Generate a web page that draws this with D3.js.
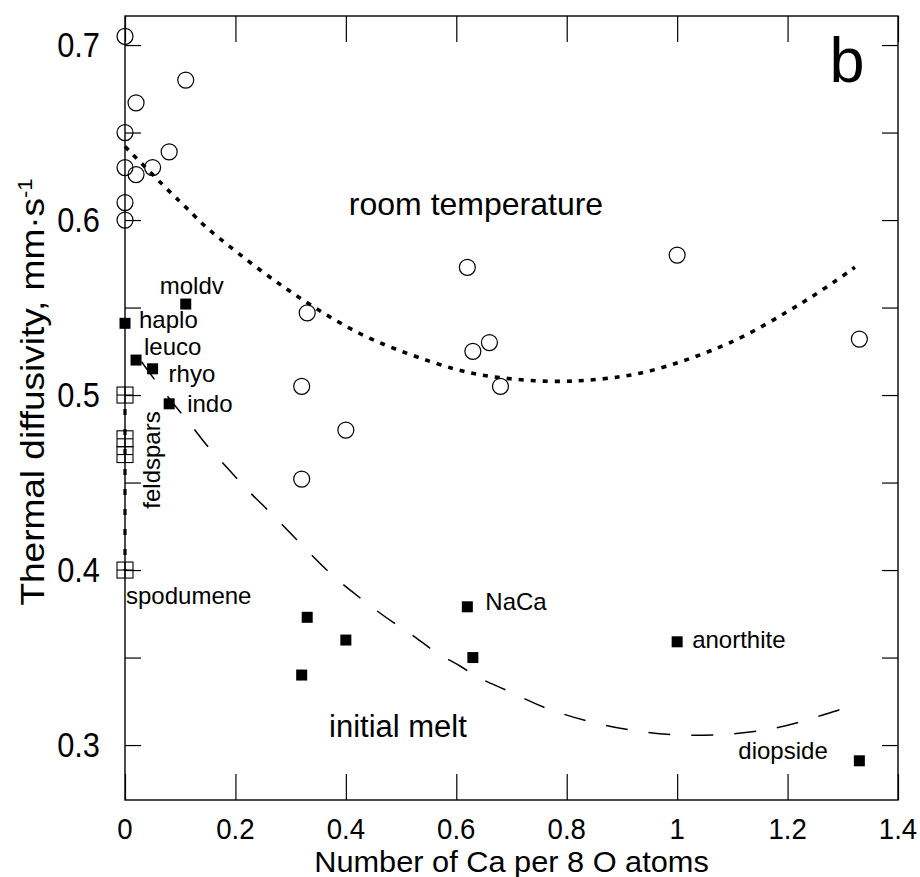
<!DOCTYPE html>
<html>
<head>
<meta charset="utf-8">
<script src="https://cdn.jsdelivr.net/npm/d3@7"></script>
<style>
  html, body { margin: 0; padding: 0; background: #fff; }
  svg { display: block; font-family: "Liberation Sans", Arial, sans-serif; }
</style>
</head>
<body>
<svg id="chart" width="920" height="877"></svg>
<script>
// ---------- data ----------
const xTicks = [0, 0.2, 0.4, 0.6, 0.8, 1.0, 1.2, 1.4];
const xTickLabels = ["0", "0.2", "0.4", "0.6", "0.8", "1", "1.2", "1.4"];
const yTicks = [0.3, 0.35, 0.4, 0.45, 0.5, 0.55, 0.6, 0.65, 0.7];
const yLabelTicks = [0.3, 0.4, 0.5, 0.6, 0.7];
const yTickLabels = ["0.3", "0.4", "0.5", "0.6", "0.7"];

// room temperature (open circles)
const roomX = [0, 0, 0, 0, 0, 0.02, 0.11, 0.02, 0.05, 0.08, 0.33, 0.32, 0.40, 0.32, 0.62, 0.63, 0.66, 0.68, 1.0, 1.33];
const roomY = [0.705, 0.65, 0.63, 0.61, 0.60, 0.667, 0.680, 0.626, 0.630, 0.639, 0.547, 0.505, 0.480, 0.452, 0.573, 0.525, 0.530, 0.505, 0.580, 0.532];

// initial melt (filled squares)
const meltNames = ["moldv", "haplo", "leuco", "rhyo", "indo", "", "", "", "NaCa", "", "anorthite", "diopside"];
const meltX = [0.11, 0, 0.02, 0.05, 0.08, 0.33, 0.40, 0.32, 0.62, 0.63, 1.0, 1.33];
const meltY = [0.552, 0.541, 0.520, 0.515, 0.495, 0.373, 0.360, 0.340, 0.379, 0.350, 0.359, 0.291];

// minerals (crossed squares)
const mineralX = [0, 0, 0, 0];
const mineralY = [0.500, 0.475, 0.466, 0.400];

// fitted trends
const roomFitX = [0, 0.078, 0.098, 0.118, 0.136, 0.157, 0.251, 0.332, 0.426, 0.516, 0.601, 0.667, 0.775, 0.867, 0.933, 0.999, 1.060, 1.126, 1.202, 1.259, 1.322];
const roomFitY = [0.642, 0.617, 0.611, 0.605, 0.599, 0.593, 0.5695, 0.552, 0.534, 0.523, 0.514, 0.510, 0.507, 0.509, 0.512, 0.518, 0.525, 0.534, 0.548, 0.559, 0.573];

const meltFitX = [0.03, 0.06, 0.09, 0.12, 0.15, 0.19, 0.22, 0.26, 0.30, 0.37, 0.41, 0.45, 0.49, 0.53, 0.56, 0.61, 0.64, 0.68, 0.72, 0.76, 0.84, 0.92, 0.99, 1.07, 1.15, 1.22, 1.30, 1.33];
const meltFitY = [0.519, 0.506, 0.494, 0.483, 0.470, 0.457, 0.446, 0.434, 0.421, 0.398, 0.388, 0.378, 0.369, 0.361, 0.353, 0.345, 0.338, 0.333, 0.327, 0.321, 0.313, 0.308, 0.3055, 0.3055, 0.3076, 0.3126, 0.321, 0.323];

const mineralFitX = [0, 0];
const mineralFitY = [0.500, 0.400];

// ---------- scales ----------
const svg = d3.select("#chart");
const x = d3.scaleLinear().domain([0, 1.4]).range([125, 898]);
const y = d3.scaleLinear().domain([0.2686, 0.7166]).range([800, 16]);

const fontFam = '"Liberation Sans", Arial, sans-serif';
const SX = 0.88; // horizontal squeeze of the original figure's text

// ---------- axes (ticks only) ----------
function styleAxis(g) {
  g.select(".domain").remove();
  g.selectAll(".tick line").attr("stroke", "#000").attr("stroke-width", 1.2);
  g.selectAll(".tick text").remove();
}

svg.append("g").attr("transform", `translate(${x(0)},0)`)
  .call(d3.axisLeft(y).tickValues(yTicks).tickSize(-16))
  .call(styleAxis);
svg.append("g").attr("transform", `translate(${x(1.4)},0)`)
  .call(d3.axisRight(y).tickValues(yTicks).tickSize(-16))
  .call(styleAxis);
svg.append("g").attr("transform", `translate(0,${y(0.2686)})`)
  .call(d3.axisBottom(x).tickValues(xTicks).tickSize(-26))
  .call(styleAxis);
svg.append("g").attr("transform", `translate(0,${y(0.7166)})`)
  .call(d3.axisTop(x).tickValues(xTicks).tickSize(-26))
  .call(styleAxis);

// tick labels
svg.append("g").selectAll("text")
  .data(yLabelTicks)
  .join("text")
  .attr("transform", d => `translate(${x(0) - 25},${y(d)}) scale(${SX},1)`)
  .attr("text-anchor", "end").attr("dy", "0.35em")
  .attr("font-size", 35).attr("font-family", fontFam)
  .text((d, i) => yTickLabels[i]);

svg.append("g").selectAll("text")
  .data(xTicks)
  .join("text")
  .attr("transform", d => `translate(${x(d)},839) scale(0.92,1)`)
  .attr("text-anchor", "middle")
  .attr("font-size", 30).attr("font-family", fontFam)
  .text((d, i) => xTickLabels[i]);

// frame
svg.append("rect")
  .attr("x", x(0)).attr("y", y(0.7166))
  .attr("width", x(1.4) - x(0)).attr("height", y(0.2686) - y(0.7166))
  .attr("fill", "none").attr("stroke", "#000").attr("stroke-width", 1.4);

// axis titles
svg.append("text")
  .attr("transform", `translate(${(x(0) + x(1.4)) / 2},871.6) scale(1.06,1)`)
  .attr("text-anchor", "middle").attr("font-size", 29).attr("font-family", fontFam)
  .text("Number of Ca per 8 O atoms");

const yl = svg.append("text")
  .attr("transform", `translate(44,392) scale(${SX},1) rotate(-90)`)
  .attr("text-anchor", "middle").attr("font-size", 37).attr("font-family", fontFam);
yl.append("tspan").text("Thermal diffusivity, mm\u00b7s");
yl.append("tspan").attr("dy", -14).attr("font-size", 22).text("-1");

// ---------- fit lines ----------
const line = d3.line().x(d => x(d[0])).y(d => y(d[1])).curve(d3.curveBasis);

svg.append("path")
  .datum(roomFitX.map((v, i) => [v, roomFitY[i]]))
  .attr("d", line).attr("fill", "none").attr("stroke", "#000")
  .attr("stroke-width", 3.6).attr("stroke-dasharray", "5,7");

svg.append("path")
  .datum(meltFitX.map((v, i) => [v, meltFitY[i]]))
  .attr("d", line).attr("fill", "none").attr("stroke", "#000")
  .attr("stroke-width", 1.5).attr("stroke-dasharray", "22,21");

svg.append("path")
  .datum(mineralFitX.map((v, i) => [v, mineralFitY[i]]))
  .attr("d", d3.line().x(d => x(d[0])).y(d => y(d[1])))
  .attr("fill", "none").attr("stroke", "#000")
  .attr("stroke-width", 3.2).attr("stroke-dasharray", "6,14").attr("stroke-dashoffset", -14);

// ---------- points ----------
svg.append("g").selectAll("circle")
  .data(roomX.map((v, i) => [v, roomY[i]]))
  .join("circle")
  .attr("cx", d => x(d[0])).attr("cy", d => y(d[1])).attr("r", 8)
  .attr("fill", "none").attr("stroke", "#000").attr("stroke-width", 1.2);

const sq = 11;
svg.append("g").selectAll("rect")
  .data(meltX.map((v, i) => [v, meltY[i]]))
  .join("rect")
  .attr("x", d => x(d[0]) - sq / 2).attr("y", d => y(d[1]) - sq / 2)
  .attr("width", sq).attr("height", sq).attr("fill", "#000");

const cs = 16;
const cg = svg.append("g").selectAll("g")
  .data(mineralX.map((v, i) => [v, mineralY[i]]))
  .join("g")
  .attr("transform", d => `translate(${x(d[0])},${y(d[1])})`);
cg.append("rect").attr("x", -cs / 2).attr("y", -cs / 2).attr("width", cs).attr("height", cs)
  .attr("fill", "none").attr("stroke", "#000").attr("stroke-width", 1.1);
cg.append("line").attr("x1", -cs / 2).attr("x2", cs / 2).attr("y1", 0).attr("y2", 0)
  .attr("stroke", "#000").attr("stroke-width", 1.1);
cg.append("line").attr("y1", -cs / 2).attr("y2", cs / 2).attr("x1", 0).attr("x2", 0)
  .attr("stroke", "#000").attr("stroke-width", 1.1);

// ---------- annotations ----------
const labelOffsets = {
  moldv: [-26, -10], haplo: [14, 5], leuco: [8, -5], rhyo: [16, 13], indo: [18, 8],
  NaCa: [18, 3], anorthite: [15, 6], diopside: [-121, -2]
};
svg.append("g").selectAll("text")
  .data(meltX.map((v, i) => ({ x: v, y: meltY[i], name: meltNames[i] })).filter(d => d.name))
  .join("text")
  .attr("x", d => x(d.x) + labelOffsets[d.name][0])
  .attr("y", d => y(d.y) + labelOffsets[d.name][1])
  .attr("font-size", 24).attr("font-family", fontFam)
  .text(d => d.name);

svg.append("text")
  .attr("transform", `translate(${x(0) + 35},460) rotate(-90)`)
  .attr("text-anchor", "middle").attr("font-size", 24).attr("font-family", fontFam)
  .text("feldspars");

svg.append("text")
  .attr("x", x(0) + 1).attr("y", y(0.4) + 34)
  .attr("font-size", 24).attr("font-family", fontFam)
  .text("spodumene");

svg.append("text")
  .attr("x", 476).attr("y", y(0.6) - 5)
  .attr("text-anchor", "middle").attr("font-size", 32).attr("font-family", fontFam)
  .text("room temperature");

svg.append("text")
  .attr("x", 329).attr("y", y(0.3) - 8)
  .attr("font-size", 31).attr("font-family", fontFam)
  .text("initial melt");

svg.append("text")
  .attr("x", 847).attr("y", 82)
  .attr("text-anchor", "middle").attr("font-size", 63).attr("font-family", fontFam)
  .text("b");
</script>
</body>
</html>
